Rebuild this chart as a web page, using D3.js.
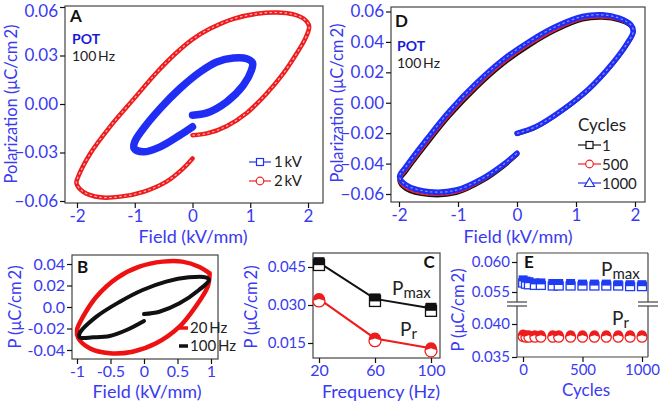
<!DOCTYPE html>
<html><head><meta charset="utf-8">
<script src="https://cdn.jsdelivr.net/npm/d3@7"></script>
<style>
body{margin:0;background:#fff;}
text{font-family:Lato,"Open Sans",sans-serif;}
</style></head><body>
<script>
// ---------- DATA ----------
// Panel A (100 Hz): [field kV/mm, polarization uC/cm2]
const loopA1kV = [[0.00,-0.0069],[0.25,-0.0055],[0.59,0.0013],[0.88,0.0116],[1.02,0.0208],[1.04,0.0254],[0.94,0.0280],[0.71,0.0284],[0.42,0.0260],[0.13,0.0198],[-0.22,0.0095],[-0.56,-0.0028],[-0.85,-0.0152],[-1.00,-0.0234],[-1.01,-0.0275],[-0.85,-0.0296],[-0.56,-0.0265],[-0.22,-0.0193],[0.00,-0.0141]];
const loopA2kV = [[0.00,-0.0193],[0.25,-0.0182],[0.59,-0.0137],[0.94,-0.0055],[1.28,0.0064],[1.57,0.0188],[1.80,0.0311],[1.95,0.0403],[2.02,0.0480],[1.95,0.0520],[1.75,0.0554],[1.46,0.0566],[1.11,0.0558],[0.71,0.0527],[0.30,0.0465],[0.00,0.0400],[-0.27,0.0320],[-0.62,0.0195],[-1.02,0.0030],[-1.43,-0.0141],[-1.77,-0.0306],[-1.98,-0.0450],[-2.01,-0.0490],[-1.89,-0.0543],[-1.60,-0.0577],[-1.25,-0.0573],[-0.85,-0.0543],[-0.45,-0.0480],[-0.16,-0.0398],[0.00,-0.0337]];
// Panel D (100 Hz, cycling)
const loopD1 = [[0.00,-0.0204],[0.32,-0.0161],[0.77,-0.0051],[1.23,0.0092],[1.62,0.0256],[1.87,0.0388],[1.97,0.0464],[1.93,0.0506],[1.73,0.0544],[1.45,0.0560],[1.11,0.0548],[0.66,0.0478],[0.21,0.0378],[-0.24,0.0255],[-0.69,0.0100],[-1.15,-0.0088],[-1.54,-0.0275],[-1.88,-0.0448],[-1.99,-0.0512],[-1.88,-0.0566],[-1.49,-0.0605],[-1.03,-0.0592],[-0.58,-0.0512],[-0.24,-0.0420],[0.00,-0.0340]];
const loopD500 = [[0.00,-0.0202],[0.32,-0.0159],[0.77,-0.0049],[1.23,0.0094],[1.62,0.0258],[1.87,0.0390],[1.97,0.0466],[1.93,0.0508],[1.73,0.0548],[1.45,0.0566],[1.11,0.0555],[0.66,0.0486],[0.21,0.0387],[-0.24,0.0265],[-0.69,0.0110],[-1.15,-0.0076],[-1.54,-0.0264],[-1.88,-0.0438],[-1.99,-0.0504],[-1.88,-0.0558],[-1.49,-0.0598],[-1.03,-0.0586],[-0.58,-0.0506],[-0.24,-0.0415],[0.00,-0.0337]];
const loopD1000 = [[0.00,-0.0201],[0.32,-0.0157],[0.77,-0.0047],[1.23,0.0096],[1.62,0.0260],[1.87,0.0392],[1.97,0.0468],[1.93,0.0512],[1.73,0.0556],[1.45,0.0578],[1.11,0.0567],[0.66,0.0501],[0.21,0.0403],[-0.24,0.0282],[-0.69,0.0128],[-1.15,-0.0058],[-1.54,-0.0245],[-1.88,-0.0420],[-1.99,-0.0486],[-1.88,-0.0541],[-1.49,-0.0585],[-1.03,-0.0574],[-0.58,-0.0497],[-0.24,-0.0409],[0.00,-0.0332]];
// Panel B (1 kV/mm)
const loopB20Hz = [[0.98,0.0313],[0.82,0.0375],[0.57,0.0422],[0.28,0.0422],[-0.07,0.0375],[-0.41,0.0267],[-0.71,0.0096],[-0.91,-0.0090],[-1.00,-0.0214],[-0.98,-0.0291],[-0.81,-0.0384],[-0.51,-0.0431],[-0.17,-0.0416],[0.18,-0.0338],[0.53,-0.0183],[0.77,0.0003],[0.95,0.0189],[0.98,0.0313]];
const loopB100Hz = [[0.00,-0.0065],[0.23,-0.0044],[0.53,0.0034],[0.82,0.0158],[0.97,0.0251],[0.92,0.0276],[0.67,0.0276],[0.33,0.0236],[-0.02,0.0158],[-0.36,0.0049],[-0.71,-0.0090],[-0.96,-0.0245],[-0.96,-0.0282],[-0.76,-0.0282],[-0.51,-0.0270],[-0.26,-0.0214],[0.00,-0.0130]];
// Panel C
const freq = [20, 60, 100];
const pmaxFilled = [0.0467, 0.0324, 0.0287];
const pmaxOpen   = [0.0458, 0.0316, 0.0277];
const prFilled   = [0.0324, 0.0168, 0.0129];
const prOpen     = [0.0316, 0.0159, 0.0119];
// Panel E
const cycles      = [1, 25, 50, 100, 150, 250, 300, 400, 500, 600, 700, 800, 900, 1000];
const eMaxFilled  = [0.0571,0.0569,0.0568,0.0566,0.0566,0.0565,0.0565,0.0565,0.0564,0.0564,0.0564,0.0563,0.0563,0.0563];
const eMaxOpen    = [0.0565,0.0563,0.0562,0.0561,0.0561,0.0560,0.0560,0.0560,0.0560,0.0560,0.0560,0.0560,0.0559,0.0559];
const ePrFilled   = [0.0384,0.0383,0.0383,0.0383,0.0383,0.0383,0.0383,0.0383,0.0383,0.0383,0.0383,0.0383,0.0383,0.0383];
const ePrOpen     = [0.0381,0.0380,0.0380,0.0380,0.0380,0.0380,0.0380,0.0380,0.0380,0.0380,0.0380,0.0380,0.0380,0.0380];
// Ticks
const aXTicks=[-2,-1,0,1,2], aXLabels=["-2","-1","0","1","2"];
const aYTicks=[0.06,0.03,0,-0.03,-0.06], aYLabels=["0.06","0.03","0.00","\u22120.03","\u22120.06"];
const dYTicks=[0.06,0.04,0.02,0,-0.02,-0.04,-0.06], dYLabels=["0.06","0.04","0.02","0.00","\u22120.02","\u22120.04","\u22120.06"];
const bXTicks=[-1,-0.5,0,0.5,1], bXLabels=["-1","-0.5","0","0.5","1"];
const bYTicks=[0.04,0.02,0,-0.02,-0.04], bYLabels=["0.04","0.02","0.0","-0.02","-0.04"];
const cXTicks=[20,60,100], cYTicks=[0.045,0.030,0.015], cYLabels=["0.045","0.030","0.015"];
const eXTicks=[0,500,1000], eYUp=[0.060,0.055], eYLow=[0.040,0.035];

// ---------- DRAW ----------
const blue="#3a3af0", txt="#222", frameCol="#444";
const svg=d3.select("body").append("svg").attr("width",660).attr("height",402);

function styleAxis(sel,fs){
  sel.select(".domain").remove();
  sel.selectAll(".tick line").attr("stroke","#111").attr("stroke-width",1.2);
  sel.selectAll(".tick text").attr("fill",blue).attr("font-size",fs).attr("font-family","Lato,'Open Sans',sans-serif");
}
function frame(x0,y0,x1,y1){
  svg.append("rect").attr("x",x0).attr("y",y0).attr("width",x1-x0).attr("height",y1-y0)
    .attr("fill","none").attr("stroke",frameCol).attr("stroke-width",1.2);
}
function xAxis(x,y1,ticks,labels,fs){
  svg.append("g").attr("transform",`translate(0,${y1})`)
    .call(d3.axisBottom(x).tickValues(ticks).tickFormat((d,i)=>labels?labels[i]:d).tickSize(5).tickPadding(2)).call(styleAxis,fs);
}
function yAxis(y,x0,ticks,labels,fs,topShift){
  const g=svg.append("g").attr("transform",`translate(${x0},0)`)
    .call(d3.axisLeft(y).tickValues(ticks).tickFormat((d,i)=>labels[i]).tickSize(5).tickPadding(2)).call(styleAxis,fs);
  if(topShift) g.selectAll(".tick text").filter((d,i)=>i===0).attr("dy","0.55em");
}
function label(x,y,s,opt={}){
  const t=svg.append("text").attr("x",x).attr("y",y).text(s)
    .attr("font-size",opt.size||18).attr("fill",opt.fill||blue)
    .attr("text-anchor",opt.anchor||"start").attr("font-weight",opt.bold?"bold":"normal");
  if(opt.rot) t.attr("transform",`rotate(-90,${x},${y})`);
  return t;
}
function loop(x,y,pts,color,w,inner){
  const line=d3.line().x(d=>x(d[0])).y(d=>y(d[1])).curve(d3.curveCatmullRom.alpha(0.5));
  svg.append("path").attr("d",line(pts)).attr("fill","none").attr("stroke",color)
    .attr("stroke-width",w).attr("stroke-linecap","round").attr("stroke-linejoin","round");
  if(inner){
    svg.append("path").attr("d",line(pts)).attr("fill","none").attr("stroke",inner)
      .attr("stroke-width",1.2).attr("stroke-dasharray","2.5,2.5");
  }
}

// Panel A
{
  const x=d3.scaleLinear().domain([-2,2]).range([77,308]);
  const y=d3.scaleLinear().domain([-0.06,0.06]).range([201,7]);
  frame(65,6,323,203);
  xAxis(x,203,aXTicks,aXLabels,17);
  yAxis(y,65,aYTicks,aYLabels,17,true);
  loop(x,y,loopA2kV,"#ee1c1c",4.5,"#ffb5b5");
  loop(x,y,loopA1kV,"#1f2df5",7.5,null);
  label(70,22,"A",{bold:true,fill:"#111",size:17});
  label(72,44,"POT",{bold:true,fill:"#1a1ad8",size:14});
  label(72,61,"100\u2009Hz",{fill:txt,size:14});
  label(193,243,"Field (kV/mm)",{anchor:"middle"});
  label(17,104,"Polarization (\u03bcC/cm\u20092)",{anchor:"middle",rot:true,size:16.5});
  // legend
  svg.append("line").attr("x1",249).attr("x2",271).attr("y1",162).attr("y2",162).attr("stroke","#2233ee").attr("stroke-width",1.2);
  svg.append("rect").attr("x",256.5).attr("y",158.5).attr("width",7).attr("height",7).attr("fill","#fff").attr("stroke","#2233ee").attr("stroke-width",1.2);
  svg.append("line").attr("x1",249).attr("x2",271).attr("y1",181).attr("y2",181).attr("stroke","#ee2222").attr("stroke-width",1.2);
  svg.append("circle").attr("cx",260).attr("cy",181).attr("r",3.8).attr("fill","#fff").attr("stroke","#ee2222").attr("stroke-width",1.2);
  label(274,167,"1\u2009kV",{fill:txt,size:15});
  label(274,186,"2\u2009kV",{fill:txt,size:15});
}

// Panel D
{
  const x=d3.scaleLinear().domain([-2,2]).range([399,635]);
  const y=d3.scaleLinear().domain([-0.06,0.06]).range([194,11.5]);
  frame(391,7,645,202);
  xAxis(x,202,aXTicks,aXLabels,17);
  yAxis(y,391,dYTicks,dYLabels,17,false);
  loop(x,y,loopD1,"#111",4.5,"#555");
  loop(x,y,loopD500,"#ee1c1c",4,"#ffaaaa");
  loop(x,y,loopD1000,"#1f2df5",5.5,"#8a95ff");
  label(395,27,"D",{bold:true,fill:"#111",size:17});
  label(397,51,"POT",{bold:true,fill:"#1a1ad8",size:14});
  label(397,68,"100\u2009Hz",{fill:txt,size:14});
  label(518,243,"Field (kV/mm)",{anchor:"middle"});
  label(343,103,"Polarization (\u03bcC/cm\u20092)",{anchor:"middle",rot:true,size:16.5});
  label(578,131,"Cycles",{fill:txt,size:17});
  const items=[["1","#111","sq",145],["500","#ee2222","ci",164],["1000","#2233ee","tr",183]];
  items.forEach(([t,c,m,yy])=>{
    svg.append("line").attr("x1",578).attr("x2",601).attr("y1",yy).attr("y2",yy).attr("stroke",c).attr("stroke-width",1.2);
    if(m==="sq") svg.append("rect").attr("x",586).attr("y",yy-3.5).attr("width",7).attr("height",7).attr("fill","#fff").attr("stroke",c).attr("stroke-width",1.2);
    if(m==="ci") svg.append("circle").attr("cx",589.5).attr("cy",yy).attr("r",3.8).attr("fill","#fff").attr("stroke",c).attr("stroke-width",1.2);
    if(m==="tr") svg.append("path").attr("d",`M${589.5},${yy-5}L${594.5},${yy+3.5}L${584.5},${yy+3.5}Z`).attr("fill","#fff").attr("stroke",c).attr("stroke-width",1.2);
    label(602,yy+5.5,t,{fill:txt,size:15});
  });
}

// Panel B
{
  const x=d3.scaleLinear().domain([-1,1]).range([77,211]);
  const y=d3.scaleLinear().domain([-0.04,0.04]).range([350,264]);
  frame(72,255,218,359);
  xAxis(x,359,bXTicks,bXLabels,16);
  yAxis(y,72,bYTicks,bYLabels,16,false);
  loop(x,y,loopB20Hz,"#ee1111",4.5,null);
  loop(x,y,loopB100Hz,"#111",4,null);
  label(77,273,"B",{bold:true,fill:"#111",size:17});
  label(147,398,"Field (kV/mm)",{anchor:"middle"});
  label(21,307,"P (\u03bcC/cm\u20092)",{anchor:"middle",rot:true,size:16.5});
  svg.append("line").attr("x1",179).attr("x2",188).attr("y1",328).attr("y2",328).attr("stroke","#ee1111").attr("stroke-width",3.5);
  svg.append("line").attr("x1",179).attr("x2",188).attr("y1",346).attr("y2",346).attr("stroke","#111").attr("stroke-width",3.5);
  label(190,333,"20\u2009Hz",{fill:txt,size:15});
  label(190,351,"100\u2009Hz",{fill:txt,size:15});
}

// Panel C
{
  const x=d3.scaleLinear().domain([20,100]).range([319,431]);
  const y=d3.scaleLinear().domain([0.015,0.045]).range([343,267]);
  frame(313,253,440,358);
  xAxis(x,358,cXTicks,null,16);
  yAxis(y,313,cYTicks,cYLabels,15,false);
  const ln=d3.line().x(d=>x(d[0])).y(d=>y(d[1]));
  const pm=freq.map((f,i)=>[f,pmaxFilled[i]]), pr=freq.map((f,i)=>[f,prFilled[i]]);
  svg.append("path").attr("d",ln(pm)).attr("fill","none").attr("stroke","#111").attr("stroke-width",2);
  svg.append("path").attr("d",ln(pr)).attr("fill","none").attr("stroke","#ee1c1c").attr("stroke-width",2);
  freq.forEach((f,i)=>{
    svg.append("rect").attr("x",x(f)-5.5).attr("y",y(pmaxOpen[i])-5.5).attr("width",11).attr("height",11).attr("fill","#fff").attr("stroke","#111").attr("stroke-width",1.3);
    svg.append("rect").attr("x",x(f)-5.5).attr("y",y(pmaxFilled[i])-5.5).attr("width",11).attr("height",8).attr("fill","#111");
    svg.append("circle").attr("cx",x(f)).attr("cy",y(prOpen[i])).attr("r",6).attr("fill","#fff").attr("stroke","#ee1c1c").attr("stroke-width",1.3);
    svg.append("path").attr("d",d3.arc()({innerRadius:0,outerRadius:6,startAngle:-Math.PI*0.6,endAngle:Math.PI*0.6})).attr("transform",`translate(${x(f)},${y(prFilled[i])})`).attr("fill","#ee1c1c");
  });
  const t1=label(392,295,"P",{fill:txt,size:19}); t1.append("tspan").attr("font-size",15).attr("dy",3).text("max");
  const t2=label(400,336,"P",{fill:txt,size:19}); t2.append("tspan").attr("font-size",15).attr("dy",3).text("r");
  label(429,268,"C",{bold:true,fill:"#111",size:17,anchor:"middle"});
  label(381,398,"Frequency (Hz)",{anchor:"middle"});
  label(257,307,"P (\u03bcC/cm\u20092)",{anchor:"middle",rot:true,size:16.5});
}

// Panel E (broken axis)
{
  const x=d3.scaleLinear().domain([0,1000]).range([523,642]);
  const yU=d3.scaleLinear().domain([0.055,0.060]).range([292,262]);
  const yL=d3.scaleLinear().domain([0.035,0.040]).range([357,324]);
  const fx0=517,fx1=648,fy0=253,fy1=357;
  const s=(a)=>a.attr("stroke",frameCol).attr("stroke-width",1.2);
  s(svg.append("line").attr("x1",fx0).attr("x2",fx1).attr("y1",fy0).attr("y2",fy0));
  s(svg.append("line").attr("x1",fx0).attr("x2",fx1).attr("y1",fy1).attr("y2",fy1));
  [fx0,fx1].forEach(xx=>{
    s(svg.append("line").attr("x1",xx).attr("x2",xx).attr("y1",fy0).attr("y2",302));
    s(svg.append("line").attr("x1",xx).attr("x2",xx).attr("y1",306).attr("y2",fy1));
    s(svg.append("line").attr("x1",xx-10).attr("x2",xx+10).attr("y1",302).attr("y2",302));
    s(svg.append("line").attr("x1",xx-10).attr("x2",xx+10).attr("y1",306).attr("y2",306));
  });
  xAxis(x,fy1,eXTicks,null,15);
  yAxis(yU,fx0,eYUp,["0.060","0.055"],15,false);
  yAxis(yL,fx0,eYLow,["0.040","0.035"],15,false);
  cycles.forEach((c,i)=>{
    svg.append("rect").attr("x",x(c)-4.5).attr("y",yU(eMaxOpen[i])-4).attr("width",9).attr("height",8).attr("fill","#fff").attr("stroke","#1f3cf5").attr("stroke-width",1.3);
    svg.append("rect").attr("x",x(c)-4.5).attr("y",yU(eMaxFilled[i])-4).attr("width",9).attr("height",6).attr("fill","#1f3cf5");
    svg.append("circle").attr("cx",x(c)).attr("cy",yL(ePrOpen[i])).attr("r",5).attr("fill","#fff").attr("stroke","#ee1c1c").attr("stroke-width",1.3);
    svg.append("path").attr("d",d3.arc()({innerRadius:0,outerRadius:5,startAngle:-Math.PI*0.6,endAngle:Math.PI*0.6})).attr("transform",`translate(${x(c)},${yL(ePrFilled[i])})`).attr("fill","#ee1c1c");
  });
  label(524,268,"E",{bold:true,fill:"#111",size:17});
  const t1=label(601,276,"P",{fill:txt,size:19}); t1.append("tspan").attr("font-size",15).attr("dy",3).text("max");
  const t2=label(612,325,"P",{fill:txt,size:19}); t2.append("tspan").attr("font-size",15).attr("dy",3).text("r");
  label(586,396,"Cycles",{anchor:"middle",size:17});
  label(464,310,"P (\u03bcC/cm\u20092)",{anchor:"middle",rot:true,size:16.5});
}
</script>
</body></html>
